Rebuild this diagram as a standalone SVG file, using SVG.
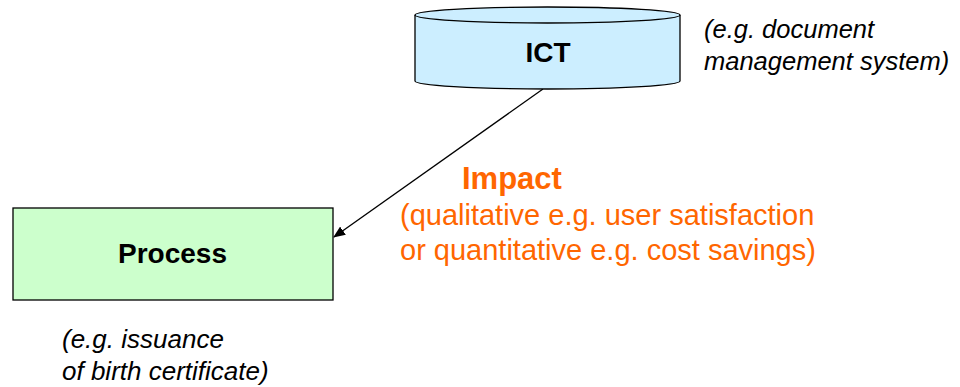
<svg xmlns="http://www.w3.org/2000/svg" width="960" height="387" viewBox="0 0 960 387">
<style>
text{font-family:"Liberation Sans",Arial,sans-serif}
.node{stroke:#000;stroke-width:1.3}
.lbl{font-weight:bold;font-size:28px;fill:#000;text-anchor:middle}
.note{font-style:italic;font-size:25.5px;fill:#000}
.imp{fill:#FF6600;font-size:29px}
</style>
<defs>
<marker id="arr" markerWidth="12" markerHeight="10" refX="11" refY="5" orient="auto" markerUnits="userSpaceOnUse">
<path d="M0,0 L12,5 L0,10 Z" fill="#000"/>
</marker>
</defs>
<g id="connectors">
<line x1="543" y1="89" x2="334" y2="237" stroke="#000" stroke-width="1.3" marker-end="url(#arr)"/>
</g>
<g id="ict">
<path class="node" d="M415,15 L415,81 A132.5,8 0 0 0 680,81 L680,15" fill="#CCEEFF"/>
<ellipse class="node" cx="547.5" cy="15" rx="132.5" ry="8" fill="#CCEEFF"/>
<text class="lbl" x="548" y="62">ICT</text>
</g>
<g id="process">
<rect class="node" x="13" y="208" width="320" height="92" fill="#CCFFCC"/>
<text class="lbl" x="172.5" y="263">Process</text>
</g>
<g id="notes">
<text class="note" x="704" y="38">(e.g. document</text>
<text class="note" x="704" y="70">management system)</text>
<text class="note" x="62" y="348" style="font-size:26px">(e.g. issuance</text>
<text class="note" x="62" y="380" style="font-size:26px">of birth certificate)</text>
</g>
<g id="impact">
<text class="imp" x="462" y="189" style="font-weight:bold;font-size:31px">Impact</text>
<text class="imp" x="400" y="225">(qualitative e.g. user satisfaction</text>
<text class="imp" x="400" y="260">or quantitative e.g. cost savings)</text>
</g>
</svg>
